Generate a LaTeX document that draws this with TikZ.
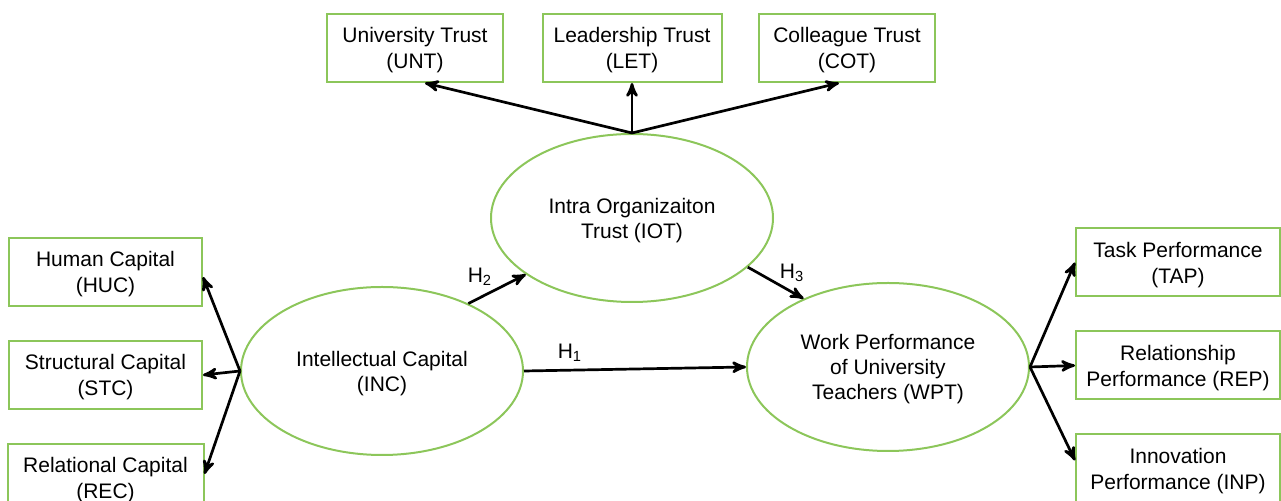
\documentclass[tikz,border=0pt]{standalone}
\usepackage{fontspec}
\setmainfont{Liberation Sans}
\usetikzlibrary{shapes.geometric,arrows,positioning,calc}
\definecolor{boxgreen}{RGB}{140,198,90}

\begin{document}
\begin{tikzpicture}[x=0.5pt,y=-0.5pt,>=stealth',line width=1.35pt,node distance=16.5pt,
    every node/.style={font=\fontsize{10.5}{12.5}\selectfont,align=center,inner sep=1pt},
    box/.style={rectangle,draw=boxgreen,line width=1pt,minimum height=34pt,text depth=0pt,
      font=\fontsize{10.5}{13}\selectfont},
    latent/.style={ellipse,draw=boxgreen,line width=1pt,minimum width=141pt,minimum height=84pt,
      inner sep=0pt,text depth=0pt}]
    \useasboundingbox (0,0) rectangle (1281,501);

    % latent variables
    \node[latent] (IOT) at (632,218) {Intra Organizaiton\\Trust (IOT)};
    \node[latent] (INC) at (382,371) {Intellectual Capital\\(INC)};
    \node[latent] (WPT) at (888,367) {Work Performance\\of University\\Teachers (WPT)};

    % trust dimensions
    \node[box,minimum width=88pt]   (UNT) at (415,48) {University Trust\\(UNT)};
    \node[box,minimum width=89.5pt] (LET) at (632,48) {Leadership Trust\\(LET)};
    \node[box,minimum width=88pt]   (COT) at (847,48) {Colleague Trust\\(COT)};

    % capital dimensions
    \node[box,minimum width=96.5pt] (HUC) at (105.5,272) {Human Capital\\(HUC)};
    \node[box,minimum width=96.5pt] (STC) [below=of HUC] {Structural Capital\\(STC)};
    \node[box,minimum width=98pt]   (REC) [below=of STC] {Relational Capital\\(REC)};

    % performance dimensions
    \node[box,minimum width=102pt]  (TAP) at (1178,262.5) {Task Performance\\(TAP)};
    \node[box,minimum width=102pt]  (REP) [below=of TAP] {Relationship\\Performance (REP)};
    \node[box,minimum width=102pt]  (INP) [below=of REP] {Innovation\\Performance (INP)};

    \path[->]
    (IOT.north) edge ($(UNT.south)+(10,0)$)
    (IOT.north) edge (LET.south)
    (IOT.north) edge ($(COT.south)+(-8,0)$)
    (INC.west)  edge ($(HUC.east)+(0,5)$)
    (INC.west)  edge (STC.east)
    (INC.west)  edge ($(REC.east)+(0,-4)$)
    (WPT.east)  edge (TAP.west)
    (WPT.east)  edge (REP.west)
    (WPT.east)  edge ($(INP.west)+(0,-8)$)
    (INC.east)  edge (WPT.west)
    (INC.38)    edge (IOT.208)
    (IOT.337)   edge (WPT.141)
    ;

    % hypotheses
    \node (H1) at (570,353) {H\textsubscript{1}};
    \node (H2) at (480,277) {H\textsubscript{2}};
    \node (H3) at (792,273) {H\textsubscript{3}};
  \end{tikzpicture}
\end{document}
